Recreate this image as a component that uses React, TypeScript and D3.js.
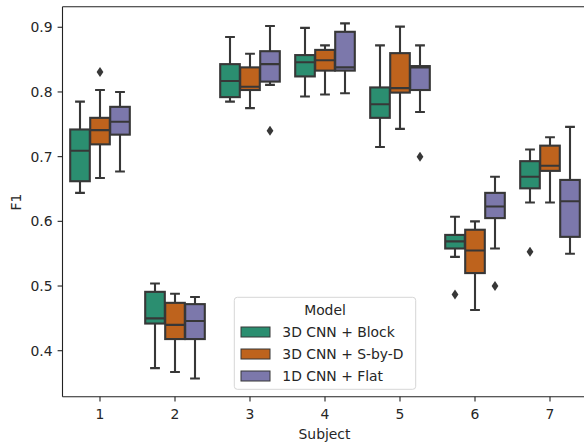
import React from "react";
import * as d3 from "d3";

// Tick labels / categories
const subjects = ["1", "2", "3", "4", "5", "6", "7"];
const models = ["3D CNN + Block", "3D CNN + S-by-D", "1D CNN + Flat"];
const yTicks = [0.4, 0.5, 0.6, 0.7, 0.8, 0.9];

// Box stats per subject: [whiskerLow, Q1, median, Q3, whiskerHigh]
const blockStats = [
  [0.644, 0.662, 0.709, 0.742, 0.785],
  [0.373, 0.442, 0.45, 0.491, 0.504],
  [0.785, 0.792, 0.817, 0.843, 0.885],
  [0.793, 0.824, 0.846, 0.857, 0.899],
  [0.715, 0.76, 0.781, 0.807, 0.872],
  [0.545, 0.558, 0.569, 0.579, 0.607],
  [0.629, 0.651, 0.669, 0.693, 0.711],
];
const sbydStats = [
  [0.667, 0.719, 0.741, 0.76, 0.803],
  [0.367, 0.418, 0.44, 0.474, 0.488],
  [0.775, 0.803, 0.808, 0.838, 0.859],
  [0.796, 0.833, 0.849, 0.865, 0.872],
  [0.743, 0.799, 0.806, 0.86, 0.901],
  [0.463, 0.52, 0.555, 0.587, 0.6],
  [0.629, 0.678, 0.686, 0.717, 0.73],
];
const flatStats = [
  [0.677, 0.734, 0.754, 0.777, 0.8],
  [0.357, 0.418, 0.446, 0.472, 0.483],
  [0.811, 0.816, 0.843, 0.863, 0.902],
  [0.798, 0.833, 0.838, 0.893, 0.906],
  [0.769, 0.803, 0.838, 0.84, 0.872],
  [0.558, 0.605, 0.623, 0.644, 0.669],
  [0.55, 0.576, 0.631, 0.664, 0.746],
];
// Outliers per subject
const blockFliers = [[], [], [], [], [], [0.487], [0.553]];
const sbydFliers = [[0.831], [], [], [], [], [], []];
const flatFliers = [[], [], [0.74], [], [0.7], [0.5], []];

const colors = ["#2b8e70", "#be631d", "#7c78ab"];
const gray = "#373737";

const W = 584;
const H = 446;
const left = 62.5;
const right = 587.5;
const top = 6.7;
const bottom = 396.7;
const FONT = "DejaVu Sans, sans-serif";
const FS = 13.9;
const TXT = "#262626";

export default function App() {
  const x = d3.scaleLinear().domain([-0.5, 6.5]).range([left, right]);
  const y = d3.scaleLinear().domain([0.3289, 0.9318]).range([bottom, top]);
  const groupW = x(0.8) - x(0);
  const eachW = groupW / models.length;
  const boxW = eachW * 0.98;
  const allStats = [blockStats, sbydStats, flatStats];
  const allFliers = [blockFliers, sbydFliers, flatFliers];

  const dw = 3.4;
  const dh = 5;
  const diamond = `M0,${-dh}L${dw},0L0,${dh}L${-dw},0Z`;

  const boxes: any[] = [];
  allStats.forEach((stats, m) => {
    stats.forEach((s, i) => {
      const cx = x(i) - groupW / 2 + eachW * (m + 0.5);
      const [lo, q1, med, q3, hi] = s;
      const capH = boxW / 4;
      boxes.push(
        <g key={`b${m}-${i}`} stroke={gray} strokeWidth={2.1}>
          <line x1={cx} x2={cx} y1={y(q1)} y2={y(lo)} />
          <line x1={cx} x2={cx} y1={y(q3)} y2={y(hi)} />
          <line x1={cx - capH} x2={cx + capH} y1={y(lo)} y2={y(lo)} />
          <line x1={cx - capH} x2={cx + capH} y1={y(hi)} y2={y(hi)} />
          <rect x={cx - boxW / 2} y={y(q3)} width={boxW} height={y(q1) - y(q3)} fill={colors[m]} />
          <line x1={cx - boxW / 2} x2={cx + boxW / 2} y1={y(med)} y2={y(med)} />
          {allFliers[m][i].map((f, k) => (
            <path key={k} d={diamond} transform={`translate(${cx},${y(f)})`} fill={gray} stroke="none" />
          ))}
        </g>
      );
    });
  });

  const lg = { x: 234.3, y: 297.3, w: 181.4, h: 92 };

  return (
    <div style={{ position: "fixed", left: 0, top: 0 }}>
      <svg width={W} height={H} style={{ display: "block", background: "#fff" }} fontFamily={FONT}>
        <rect x={0} y={0} width={W} height={H} fill="#fff" />
        <defs>
          <clipPath id="plotclip">
            <rect x={left} y={top} width={right - left} height={bottom - top} />
          </clipPath>
        </defs>
        <g clipPath="url(#plotclip)">{boxes}</g>
        {/* spines */}
        <g stroke="#222" strokeWidth={1.1} fill="none">
          <line x1={left} x2={left} y1={top} y2={bottom} />
          <line x1={left} x2={right} y1={bottom} y2={bottom} />
          <line x1={left} x2={right} y1={top} y2={top} />
          <line x1={right} x2={right} y1={top} y2={bottom} />
        </g>
        {/* x ticks */}
        {subjects.map((s, i) => (
          <g key={s}>
            <line x1={x(i)} x2={x(i)} y1={bottom} y2={bottom + 4.9} stroke="#222" strokeWidth={1.1} />
            <text x={x(i)} y={bottom + 22} textAnchor="middle" fontSize={FS} fill={TXT}>
              {s}
            </text>
          </g>
        ))}
        {/* y ticks */}
        {yTicks.map((t) => (
          <g key={t}>
            <line x1={left - 4.9} x2={left} y1={y(t)} y2={y(t)} stroke="#222" strokeWidth={1.1} />
            <text x={left - 10} y={y(t) + 5} textAnchor="end" fontSize={FS} fill={TXT}>
              {d3.format(".1f")(t)}
            </text>
          </g>
        ))}
        <text x={(left + right) / 2 - 0.5} y={439} textAnchor="middle" fontSize={FS} fill={TXT}>
          Subject
        </text>
        <text transform={`translate(21,202) rotate(-90)`} textAnchor="middle" fontSize={FS} fill={TXT}>
          F1
        </text>
        {/* legend */}
        <rect x={lg.x} y={lg.y} width={lg.w} height={lg.h} rx={3} fill="#fff" fillOpacity={0.8} stroke="#d6d6d6" strokeWidth={1} />
        <text x={lg.x + lg.w / 2} y={314.5} textAnchor="middle" fontSize={FS} fill={TXT}>
          Model
        </text>
        {models.map((m, k) => {
          const cy = 332 + k * 22;
          return (
            <g key={m}>
              <rect x={241} y={cy - 5} width={29} height={10} fill={colors[k]} stroke={gray} strokeWidth={1} />
              <text x={282.3} y={cy + 5} fontSize={FS} fill={TXT}>
                {m}
              </text>
            </g>
          );
        })}
      </svg>
    </div>
  );
}
